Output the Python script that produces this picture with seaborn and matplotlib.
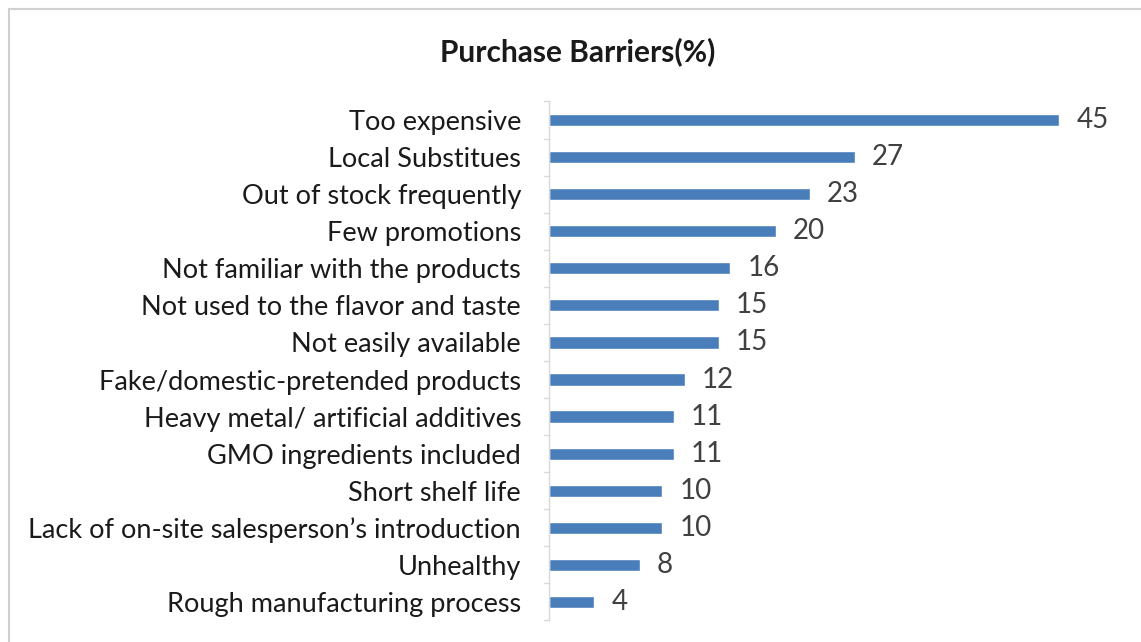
import matplotlib
matplotlib.use("Agg")
import matplotlib.pyplot as plt
import seaborn as sns
import pandas as pd

categories = [
    "Too expensive",
    "Local Substitues",
    "Out of stock frequently",
    "Few promotions",
    "Not familiar with the products",
    "Not used to the flavor and taste",
    "Not easily available",
    "Fake/domestic-pretended products",
    "Heavy metal/ artificial additives",
    "GMO ingredients included",
    "Short shelf life",
    "Lack of on-site salesperson\u2019s introduction",
    "Unhealthy",
    "Rough manufacturing process",
]
values = [45, 27, 23, 20, 16, 15, 15, 12, 11, 11, 10, 10, 8, 4]
title = "Purchase Barriers(%)"

df = pd.DataFrame({"barrier": categories, "pct": values})

sns.set_theme(style="white")
plt.rcParams["font.family"] = ["Lato", "DejaVu Sans"]

fig = plt.figure(figsize=(11.41, 6.42), dpi=100)
ax = fig.add_axes([0.481, 0.0335, 0.497, 0.8085])

sns.barplot(data=df, y="barrier", x="pct", orient="h", color="#4a7ebb",
            width=0.33, saturation=1, ax=ax)

ax.set_xlim(0, 50)
ax.set_ylim(13.5, -0.5)
ax.set_xlabel("")
ax.set_ylabel("")
ax.set_xticks([])
for s in ["top", "right", "bottom"]:
    ax.spines[s].set_visible(False)
ax.spines["left"].set_color("#d9d9d9")
ax.spines["left"].set_linewidth(1)

ax.tick_params(axis="y", length=0, pad=20, labelsize=19.5, labelcolor="#1a1a1a")
# category boundary ticks on the value axis
for b in [i + 0.5 for i in range(-1, len(categories))]:
    ax.plot([-0.45, 0], [b, b], color="#d9d9d9", lw=1, clip_on=False)

for i, v in enumerate(values):
    ax.text(v + 1.5, i, f"{v}", va="center", ha="left", fontsize=20, color="#404040")

fig.text(0.5065, 0.919, title, ha="center", va="center", fontsize=21.5,
         fontweight="bold", color="#1a1a1a")

# chart area frame (top and left edges)
fig.add_artist(plt.Line2D([9 / 1141, 1], [1 - 9 / 642, 1 - 9 / 642],
                          transform=fig.transFigure, color="#d0d0d0", lw=1.5))
fig.add_artist(plt.Line2D([9 / 1141, 9 / 1141], [0, 1 - 9 / 642],
                          transform=fig.transFigure, color="#d0d0d0", lw=1.5))

fig.savefig("out.png", dpi=100, facecolor="white")
